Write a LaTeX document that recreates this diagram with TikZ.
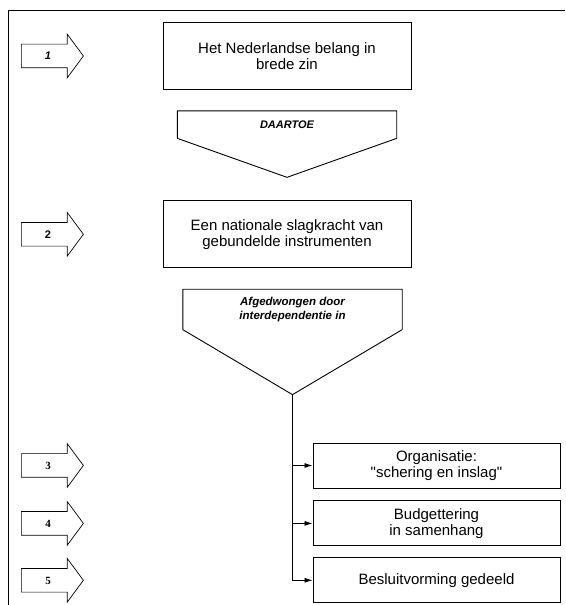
\documentclass[tikz,border=0pt]{standalone}
\usepackage{fontspec}
\setmainfont{Liberation Sans}
\newfontfamily\numfont{Liberation Serif}
\newfontfamily\rechtfont{Liberation Sans}
\usetikzlibrary{arrows.meta, positioning, shapes.arrows}

\begin{document}
\begin{tikzpicture}[
x=1pt, y=1pt,
node distance=12pt,
box/.style={draw,
rectangle,
line width=0.9pt,
minimum width=248pt,
minimum height=67pt,
align=center,
font=\fontsize{15}{16}\selectfont},
subbox/.style={box, minimum width=247pt, minimum height=45pt},
pent/.style={minimum width=219pt,
inner sep=0pt,
align=center,
font=\fontsize{11}{14}\selectfont\bfseries\itshape},
pijl/.style={draw, single arrow,
line width=0.7pt,
minimum height=62pt,
minimum width=43pt,
text height=8pt, text depth=0pt,
inner xsep=0pt, inner ysep=7.5pt,
single arrow head extend=10pt,
single arrow tip angle=107,
single arrow head indent=0pt,
font=\fontsize{11}{11}\selectfont\bfseries},
branch/.style={-{Latex[length=8pt,width=5pt]}, line width=0.8pt}
]
\useasboundingbox (0,0) rectangle (565,605);

% kader
\draw[line width=0.7pt] (8,0) -- (8,595) -- (565,595);

\coordinate (col) at (48,0);

% hoofdlijn
\node[box] (belang) at (287,549) {Het Nederlandse belang in\\brede zin};
\node[pent, minimum height=27pt, below=21pt of belang] (daartoe) {DAARTOE};
\coordinate[below=39pt of daartoe.south] (tip1);
\node[box, below=62pt of daartoe] (slagkracht) {Een nationale slagkracht van\\gebundelde instrumenten};
\node[pent, minimum height=40pt, below=21pt of slagkracht, xshift=5.5pt, font=\fontsize{11.5}{14}\selectfont\bfseries\itshape] (afgedwongen) {Afgedwongen door\\interdependentie in};
\coordinate[below=65pt of afgedwongen.south] (tip2);

\draw[line width=0.9pt] (daartoe.north west) -- (daartoe.north east) -- (daartoe.south east) -- (tip1) -- (daartoe.south west) -- cycle;
\draw[line width=0.9pt] (afgedwongen.north west) -- (afgedwongen.north east) -- (afgedwongen.south east) -- (tip2) -- (afgedwongen.south west) -- cycle;

% onderdelen
\node[subbox] (organisatie) at (436.5,139.5) {Organisatie:\\{\rechtfont"}schering en inslag{\rechtfont"}};
\node[subbox, below=of organisatie] (budget) {Budgettering\\in samenhang};
\node[subbox, below=11pt of budget] (besluit) {Besluitvorming gedeeld};

\draw[branch] (tip2) |- (besluit.west);
\draw[branch] (tip2 |- organisatie.west) -- (organisatie.west);
\draw[branch] (tip2 |- budget.west) -- (budget.west);

% pijlen links
\node[pijl, font=\fontsize{11}{11}\selectfont\bfseries\itshape] (p1) at (belang -| col) {1};
\node[pijl] (p2) at (slagkracht -| col) {2};
\node[pijl, font=\fontsize{11}{11}\numfont\bfseries] (p3) at (organisatie -| col) {3};
\node[pijl, font=\fontsize{11}{11}\numfont\bfseries] (p4) at (budget -| col) {4};
\node[pijl, font=\fontsize{11}{11}\numfont\bfseries] (p5) at (besluit -| col) {5};

\end{tikzpicture}
\end{document}
